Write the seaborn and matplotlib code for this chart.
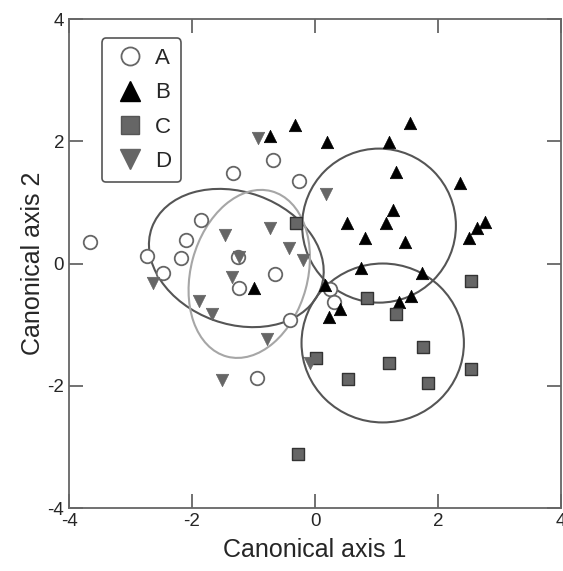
import matplotlib
matplotlib.use("Agg")
import matplotlib.pyplot as plt
from matplotlib.patches import Ellipse
from matplotlib.lines import Line2D
import seaborn as sns
import pandas as pd

# canonical scores
a_x = [-3.66, -0.69, -1.33, -0.26, -1.85, -2.10, -2.73, -2.18, -1.26, -2.47, -0.65, -1.24, -0.41, -0.95, 0.24, 0.31]
a_y = [0.36, 1.70, 1.48, 1.35, 0.71, 0.39, 0.12, 0.09, 0.11, -0.15, -0.17, -0.40, -0.92, -1.88, -0.41, -0.63]

b_x = [-0.74, -0.33, 0.20, 1.21, 1.54, 1.32, 2.36, 1.26, 0.52, 1.16, 0.82, 1.47, 2.51, 2.64, 2.77,
       0.74, 1.74, 0.16, 1.56, 1.37, 0.40, 0.23, -0.99]
b_y = [2.08, 2.27, 1.98, 1.98, 2.30, 1.49, 1.32, 0.87, 0.66, 0.66, 0.41, 0.36, 0.41, 0.58, 0.68,
       -0.07, -0.16, -0.35, -0.53, -0.63, -0.74, -0.87, -0.40]

c_x = [-0.31, 2.53, 0.84, 1.31, 1.75, 0.01, 1.20, 2.54, 0.53, 1.83, -0.27]
c_y = [0.66, -0.28, -0.57, -0.83, -1.36, -1.54, -1.63, -1.72, -1.89, -1.95, -3.11]

d_x = [-0.93, -1.46, -0.74, -0.43, -0.20, -1.24, 0.18, -1.35, -2.63, -1.88, -1.68, -0.78, -1.51, -0.09]
d_y = [2.06, 0.47, 0.58, 0.25, 0.06, 0.10, 1.14, -0.22, -0.32, -0.62, -0.83, -1.23, -1.91, -1.63]

groups = ["A", "B", "C", "D"]

# confidence ellipses: centre x, centre y, width, height, angle
ell_x = [-1.28, 1.04, 1.10, -1.07]
ell_y = [0.09, 0.62, -1.30, -0.17]
ell_w = [2.92, 2.50, 2.64, 1.90]
ell_h = [2.16, 2.52, 2.60, 2.80]
ell_ang = [-20, 0, 0, -15]

df = pd.concat([
    pd.DataFrame({"x": a_x, "y": a_y, "group": "A"}),
    pd.DataFrame({"x": b_x, "y": b_y, "group": "B"}),
    pd.DataFrame({"x": c_x, "y": c_y, "group": "C"}),
    pd.DataFrame({"x": d_x, "y": d_y, "group": "D"}),
])

sns.set_style("white")
plt.rcParams["font.family"] = ["Liberation Sans", "DejaVu Sans"]
plt.rcParams["axes.unicode_minus"] = False

fig = plt.figure(figsize=(5.63, 5.71), dpi=100)
ax = fig.add_axes([0.1226, 0.1103, 0.874, 0.8564])

# marker styles per group
styles = {
    "A": dict(marker="o", s=95, facecolor="white", edgecolor="#666666", linewidth=1.3),
    "B": dict(marker="^", s=80, color="black", edgecolor="black", linewidth=0.5),
    "C": dict(marker="s", s=70, color="#666666", edgecolor="#333333", linewidth=1.0),
    "D": dict(marker="v", s=80, color="#666666", edgecolor="#666666", linewidth=0.5),
}
for g in groups:
    sns.scatterplot(data=df[df["group"] == g], x="x", y="y", ax=ax, legend=False, zorder=3, **styles[g])

ell_col = ["#555555", "#555555", "#555555", "#a6a6a6"]
for i in range(4):
    ax.add_patch(Ellipse((ell_x[i], ell_y[i]), ell_w[i], ell_h[i], angle=ell_ang[i],
                         fill=False, edgecolor=ell_col[i], linewidth=1.5, zorder=2))

ax.set_xlim(-4, 4)
ax.set_ylim(-4, 4)
ax.set_xticks([-4, -2, 0, 2, 4])
ax.set_yticks([-4, -2, 0, 2, 4])
ax.set_xlabel("Canonical axis 1", fontsize=18, labelpad=6)
ax.set_ylabel("Canonical axis 2", fontsize=18, labelpad=2)
ax.tick_params(direction="in", length=10, width=1.3, color="#666666", labelsize=13.5,
               top=True, right=True, bottom=True, left=True)
for sp in ax.spines.values():
    sp.set_color("#666666")
    sp.set_linewidth(1.3)

handles = [
    Line2D([], [], ls="", marker="o", markersize=13, markerfacecolor="white", markeredgecolor="#666666", markeredgewidth=1.3),
    Line2D([], [], ls="", marker="^", markersize=15, color="black"),
    Line2D([], [], ls="", marker="s", markersize=13, color="#666666", markeredgecolor="#555555"),
    Line2D([], [], ls="", marker="v", markersize=15, color="#666666"),
]
leg = ax.legend(handles, groups, loc="upper left", bbox_to_anchor=(0.067, 0.961), borderaxespad=0,
                fontsize=16, frameon=True, fancybox=True, labelspacing=0.6, handletextpad=0.35,
                handlelength=1.6, borderpad=0.45)
leg.get_frame().set_edgecolor("#555555")
leg.get_frame().set_linewidth(1.2)
leg.get_frame().set_alpha(1)

fig.savefig("out.png", dpi=100)
